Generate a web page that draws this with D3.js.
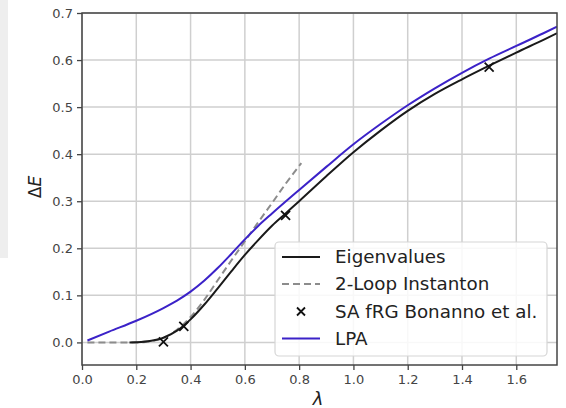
<!DOCTYPE html>
<html>
<head>
<meta charset="utf-8">
<script src="https://cdn.jsdelivr.net/npm/d3@7/dist/d3.min.js"></script>
<style>
  html, body { margin: 0; padding: 0; background: #ffffff; }
  svg { display: block; }
  text { font-family: "DejaVu Sans", sans-serif; }
</style>
</head>
<body>
<svg id="chart" width="566" height="408"></svg>
<script>
// Energy gap ΔE versus coupling λ

const lpaLambda = [0.02, 0.1, 0.2, 0.3, 0.35, 0.4, 0.45, 0.5, 0.55, 0.6, 0.65, 0.7, 0.8, 0.9, 1.0, 1.1, 1.2, 1.3, 1.4, 1.5, 1.6, 1.7, 1.75];
const lpaGap    = [0.004, 0.023, 0.046, 0.073, 0.089, 0.108, 0.131, 0.158, 0.188, 0.219, 0.248, 0.274, 0.324, 0.373, 0.421, 0.464, 0.504, 0.540, 0.573, 0.603, 0.630, 0.657, 0.671];

const eigLambda = [0.175, 0.2, 0.25, 0.3, 0.35, 0.4, 0.45, 0.5, 0.55, 0.6, 0.65, 0.7, 0.75, 0.8, 0.9, 1.0, 1.1, 1.2, 1.3, 1.4, 1.5, 1.6, 1.7, 1.75];
const eigGap    = [0.0, 0.0005, 0.003, 0.010, 0.025, 0.049, 0.080, 0.115, 0.151, 0.186, 0.218, 0.248, 0.274, 0.300, 0.353, 0.404, 0.450, 0.492, 0.528, 0.559, 0.588, 0.616, 0.643, 0.657];

const instLambda = [0.02, 0.1, 0.2, 0.25, 0.3, 0.35, 0.4, 0.45, 0.5, 0.55, 0.6, 0.65, 0.7, 0.75, 0.808];
const instGap    = [0.0, 0.0, 0.0, 0.002, 0.010, 0.027, 0.054, 0.090, 0.132, 0.174, 0.215, 0.256, 0.296, 0.337, 0.381];

const frgLambda = [0.30, 0.375, 0.75, 1.5];
const frgGap    = [0.001, 0.034, 0.270, 0.585];

const xTicks = [0.0, 0.2, 0.4, 0.6, 0.8, 1.0, 1.2, 1.4, 1.6];
const yTicks = [0.0, 0.1, 0.2, 0.3, 0.4, 0.5, 0.6, 0.7];

const legendLabels = ["Eigenvalues", "2-Loop Instanton", "SA fRG Bonanno et al.", "LPA"];

const colEig = "#1a1a1a";
const colInst = "#8c8c8c";
const colLpa = "#3b22c8";

const svg = d3.select("#chart");

// light panel strip at the far left
svg.append("rect").attr("x", 0).attr("y", 0).attr("width", 8).attr("height", 258).attr("fill", "#eeeeee");

const plot = { left: 82, right: 557, top: 13, bottom: 365 };

const x = d3.scaleLinear().domain([0, 1.75]).range([plot.left, plot.right]);
const y = d3.scaleLinear().domain([-0.048, 0.7]).range([plot.bottom, plot.top]);

// grid
const grid = svg.append("g");
grid.selectAll(".gx").data(xTicks).join("line")
  .attr("x1", d => x(d)).attr("x2", d => x(d))
  .attr("y1", plot.top).attr("y2", plot.bottom)
  .attr("stroke", "#cfcfcf").attr("stroke-width", 1.5);
grid.selectAll(".gy").data(yTicks).join("line")
  .attr("x1", plot.left).attr("x2", plot.right)
  .attr("y1", d => y(d)).attr("y2", d => y(d))
  .attr("stroke", "#cfcfcf").attr("stroke-width", 1.5);

// axes
const xAxis = d3.axisBottom(x).tickValues(xTicks).tickFormat(d3.format(".1f")).tickSizeInner(5).tickSizeOuter(0).tickPadding(5);
const yAxis = d3.axisLeft(y).tickValues(yTicks).tickFormat(d3.format(".1f")).tickSizeInner(5).tickSizeOuter(0).tickPadding(4);

const gx = svg.append("g").attr("transform", `translate(0,${plot.bottom})`).call(xAxis);
const gy = svg.append("g").attr("transform", `translate(${plot.left},0)`).call(yAxis);
[gx, gy].forEach(g => {
  g.select(".domain").remove();
  g.selectAll(".tick line").attr("stroke", "#444").attr("stroke-width", 1.3);
  g.selectAll(".tick text").attr("fill", "#444").attr("font-size", 13).attr("font-family", "DejaVu Sans, sans-serif");
});

// curves
const line = (xs, ys) => d3.line().curve(d3.curveMonotoneX)
  .x((d, i) => x(xs[i])).y((d, i) => y(ys[i]))(xs);

const clip = svg.append("clipPath").attr("id", "plotclip").append("rect")
  .attr("x", plot.left).attr("y", plot.top)
  .attr("width", plot.right - plot.left).attr("height", plot.bottom - plot.top);

const curves = svg.append("g").attr("clip-path", "url(#plotclip)");

curves.append("path").attr("d", line(instLambda, instGap))
  .attr("fill", "none").attr("stroke", colInst).attr("stroke-width", 2).attr("stroke-dasharray", "7,4");
curves.append("path").attr("d", line(eigLambda, eigGap))
  .attr("fill", "none").attr("stroke", colEig).attr("stroke-width", 2);
curves.append("path").attr("d", line(lpaLambda, lpaGap))
  .attr("fill", "none").attr("stroke", colLpa).attr("stroke-width", 2);

// fRG points as x markers
const cross = (g, cx, cy, r) => {
  g.append("path")
    .attr("d", `M${cx - r},${cy - r}L${cx + r},${cy + r}M${cx - r},${cy + r}L${cx + r},${cy - r}`)
    .attr("stroke", "#111").attr("stroke-width", 1.8).attr("fill", "none");
};
frgLambda.forEach((l, i) => cross(curves, x(l), y(frgGap[i]), 4.5));

// frame
svg.append("rect").attr("x", plot.left).attr("y", plot.top)
  .attr("width", plot.right - plot.left).attr("height", plot.bottom - plot.top)
  .attr("fill", "none").attr("stroke", "#444").attr("stroke-width", 1.5);

// axis labels
svg.append("text").attr("x", x(0.87)).attr("y", 405)
  .attr("text-anchor", "middle").attr("font-size", 18).attr("font-style", "italic").attr("fill", "#222")
  .text("λ");
const yl = svg.append("text").attr("transform", "translate(41,187) rotate(-90)")
  .attr("text-anchor", "middle").attr("font-size", 17).attr("fill", "#222");
yl.append("tspan").text("Δ");
yl.append("tspan").attr("font-style", "italic").text("E");

// legend
const leg = svg.append("g");
leg.append("rect").attr("x", 275).attr("y", 242).attr("width", 272).attr("height", 114)
  .attr("rx", 4).attr("fill", "#ffffff").attr("fill-opacity", 0.85)
  .attr("stroke", "#d6d6d6").attr("stroke-width", 1.2);
const rowY = [257, 284, 311.5, 338.5];
legendLabels.forEach((lab, i) => {
  const ry = rowY[i];
  if (i === 0 || i === 1 || i === 3) {
    leg.append("line").attr("x1", 282).attr("x2", 320).attr("y1", ry).attr("y2", ry)
      .attr("stroke", i === 0 ? colEig : i === 1 ? colInst : colLpa)
      .attr("stroke-width", 2)
      .attr("stroke-dasharray", i === 1 ? "7,4" : null);
  } else {
    cross(leg, 301, ry, 4);
  }
  leg.append("text").attr("x", 335).attr("y", ry).attr("dy", "0.35em")
    .attr("font-size", 18.3).attr("fill", "#222").text(lab);
});
</script>
</body>
</html>
